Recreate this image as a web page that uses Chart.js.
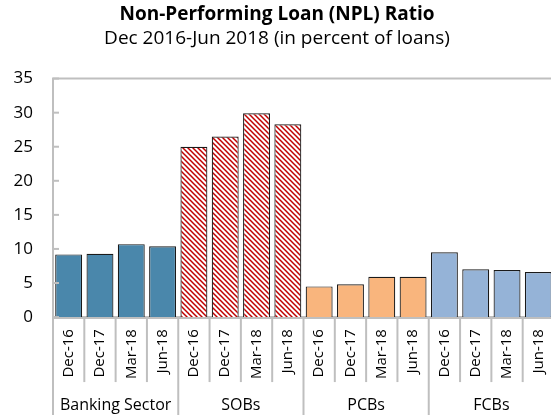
<!DOCTYPE html>
<html>
<head>
<meta charset="utf-8">
<script src="https://cdn.jsdelivr.net/npm/chart.js@4/dist/chart.umd.min.js"></script>
<style>
  html, body { margin: 0; padding: 0; background: #fff; overflow: hidden; width: 551px; height: 415px; }
  canvas { display: block; }
</style>
</head>
<body>
<canvas id="nplChart" width="586" height="415"></canvas>
<script>
// Guruhlar va davrlar
const groups = ['Banking Sector', 'SOBs', 'PCBs', 'FCBs'];
const periods = ['Dec-16', 'Dec-17', 'Mar-18', 'Jun-18'];

// NPL ko'rsatkichlari (foizda)
const bankingSector = [9.2, 9.3, 10.7, 10.4];
const sobs = [25.0, 26.5, 29.9, 28.3];
const pcbs = [4.5, 4.8, 5.9, 5.9];
const fcbs = [9.5, 7.0, 6.9, 6.6];

const yTicks = [0, 5, 10, 15, 20, 25, 30, 35];

const FONT = "'Open Sans', 'Noto Sans', sans-serif";
const GRAY = '#bfbfbf';

// SOBs uchun qizil shtrixli naqsh
function makeHatch() {
  const c = document.createElement('canvas');
  c.width = 5; c.height = 5;
  const g = c.getContext('2d');
  g.fillStyle = '#fff';
  g.fillRect(0, 0, 5, 5);
  g.strokeStyle = '#c00000';
  g.lineWidth = 1.5;
  g.beginPath();
  g.moveTo(-1, -1); g.lineTo(6, 6);
  g.moveTo(-1, 4); g.lineTo(1, 6);
  g.moveTo(4, -1); g.lineTo(6, 1);
  g.stroke();
  return g.createPattern(c, 'repeat');
}

const hatch = makeHatch();
const groupColors = ['#4a87ab', hatch, '#f9b57d', '#95b3d7'];
const series = [bankingSector, sobs, pcbs, fcbs];

const labels = [];
const values = [];
const colors = [];
series.forEach((s, gi) => {
  s.forEach((v, i) => {
    labels.push(periods[i]);
    values.push(v);
    colors.push(groupColors[gi]);
  });
});

function line(ctx, x1, y1, x2, y2) {
  ctx.beginPath();
  ctx.moveTo(x1, y1);
  ctx.lineTo(x2, y2);
  ctx.stroke();
}

// Ajratgich chiziqlar, ichki belgilar va guruh nomlari
const decorPlugin = {
  id: 'decor',
  afterDraw(chart) {
    const { ctx, chartArea: a, scales: { x, y } } = chart;
    ctx.save();
    ctx.strokeStyle = GRAY;
    ctx.lineWidth = 2;
    line(ctx, a.left - 1, a.top, a.right, a.top);
    y.ticks.forEach((t, i) => {
      const py = y.getPixelForTick(i);
      line(ctx, a.left, py, a.left + 6, py);
    });
    const slot = x.getPixelForValue(1) - x.getPixelForValue(0);
    for (let i = 0; i <= labels.length; i++) {
      const px = x.getPixelForValue(i) - slot / 2;
      const bottom = i % 4 === 0 ? chart.height : a.bottom + 65;
      line(ctx, px, a.bottom, px, bottom);
    }
    ctx.fillStyle = '#000';
    ctx.font = '16px ' + FONT;
    ctx.textAlign = 'center';
    ctx.textBaseline = 'middle';
    groups.forEach((gname, gi) => {
      const cx = (x.getPixelForValue(gi * 4 + 1) + x.getPixelForValue(gi * 4 + 2)) / 2;
      ctx.fillText(gname, cx, a.bottom + 88);
    });
    ctx.restore();
  }
};

new Chart(document.getElementById('nplChart'), {
  type: 'bar',
  data: {
    labels: labels,
    datasets: [{
      data: values,
      backgroundColor: colors,
      borderColor: '#1a1a1a',
      borderWidth: 1.2,
      barPercentage: 0.86,
      categoryPercentage: 1
    }]
  },
  options: {
    responsive: false,
    animation: false,
    layout: { padding: { top: 0, bottom: 24, left: 0, right: 32 } },
    plugins: {
      legend: { display: false },
      tooltip: { enabled: false },
      title: {
        display: true,
        text: 'Non-Performing Loan (NPL) Ratio',
        color: '#000',
        font: { family: FONT, size: 19, weight: 'bold' },
        padding: { top: 3, bottom: 1 }
      },
      subtitle: {
        display: true,
        text: 'Dec 2016-Jun 2018 (in percent of loans)',
        color: '#000',
        font: { family: FONT, size: 19 },
        padding: { top: 0, bottom: 29 }
      }
    },
    scales: {
      x: {
        afterFit(scale) {
          scale.paddingLeft = 0;
          scale.paddingRight = 0;
        },
        grid: { display: false, drawTicks: false },
        border: { display: true, color: GRAY, width: 3 },
        ticks: {
          color: '#000',
          font: { family: FONT, size: 15 },
          maxRotation: 90,
          minRotation: 90,
          padding: 12,
          autoSkip: false
        }
      },
      y: {
        min: 0,
        max: 35,
        afterBuildTicks(scale) {
          scale.ticks = yTicks.map(v => ({ value: v }));
        },
        afterFit(scale) {
          scale.width = 53;
        },
        grid: { display: false, drawTicks: false },
        border: { display: true, color: GRAY, width: 2 },
        ticks: {
          color: '#000',
          font: { family: FONT, size: 17 },
          padding: 20
        }
      }
    }
  },
  plugins: [decorPlugin]
});
</script>
</body>
</html>
